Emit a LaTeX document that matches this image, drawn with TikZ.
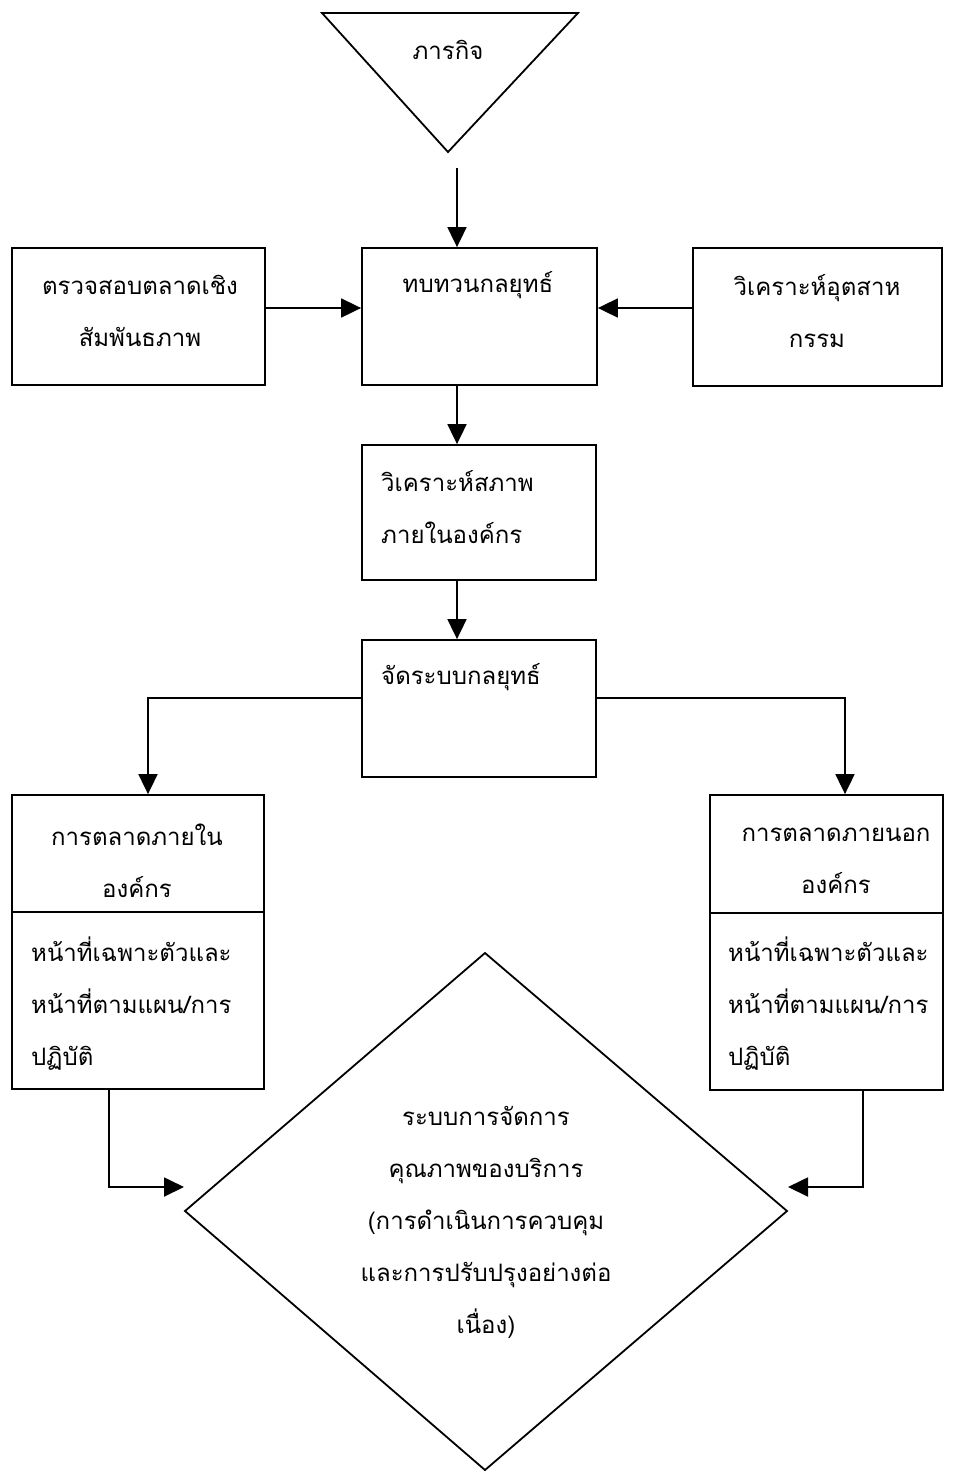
\documentclass[tikz,border=0pt]{standalone}
\usepackage{fontspec}
\newfontfamily\thaifont[Script=Thai]{Loma}
\usetikzlibrary{arrows.meta}
\begin{document}
\begin{tikzpicture}[x=1pt,y=-1pt,
  box/.style={draw, line width=1.8pt, inner sep=0pt},
  txt/.style={font=\thaifont\fontsize{24}{52}\selectfont, inner sep=0pt, align=center},
  ltxt/.style={txt, align=left, anchor=west},
  ln/.style={line width=1.8pt},
  arr/.style={line width=1.8pt, -{Triangle[length=20pt,width=19pt]}}]
\useasboundingbox (0,0) rectangle (953,1473);
\fill[white] (0,0) rectangle (953,1473);
% triangle
\draw[ln] (322,13) -- (578,13) -- (448,152) -- cycle;
\node[txt] (mission) at (448,50) {ภารกิจ};
\coordinate (tri) at (457,168);
\coordinate (col) at (457,0);
% boxes
\node[box, minimum width=253pt, minimum height=137pt] (relm) at (138.5,316.5) {};
\node[box, minimum width=235pt, minimum height=137pt] (review) at (479.5,316.5) {};
\node[box, minimum width=249pt, minimum height=138pt] (indus) at (817.5,317) {};
\node[box, minimum width=234pt, minimum height=135pt] (analysis) at (479,512.5) {};
\node[box, minimum width=234pt, minimum height=137pt] (strategy) at (479,708.5) {};
\node[box, minimum width=252pt, minimum height=294pt] (intl) at (138,942) {};
\node[box, minimum width=233pt, minimum height=295pt] (extl) at (826.5,942.5) {};
\draw[ln] (intl.west |- 0,912) -- (intl.east |- 0,912);
\draw[ln] (extl.west |- 0,913) -- (extl.east |- 0,913);
% diamond
\draw[ln] (485,953) -- (787,1211) -- (485,1470) -- (185,1211) -- cycle;
% texts
\node[txt] (t1) at (140,311) {ตรวจสอบตลาดเชิง\\สัมพันธภาพ};
\node[txt] (t2) at (478,285) {ทบทวนกลยุทธ์};
\node[txt] (t3) at (817,311) {วิเคราะห์อุตสาห\\กรรม};
\node[ltxt] (t4) at (381,507.5) {วิเคราะห์สภาพ\\ภายในองค์กร};
\node[ltxt] (t5) at (381,677) {จัดระบบกลยุทธ์};
\node[txt] (t6) at (137,861) {การตลาดภายใน\\องค์กร};
\node[ltxt] (t7) at (31,1004) {หน้าที่เฉพาะตัวและ\\หน้าที่ตามแผน/การ\\ปฏิบัติ};
\node[txt] (t8) at (836,861) {การตลาดภายนอก\\องค์กร};
\node[ltxt] (t9) at (728,1004) {หน้าที่เฉพาะตัวและ\\หน้าที่ตามแผน/การ\\ปฏิบัติ};
\node[txt] (t10) at (486,1222) {ระบบการจัดการ\\คุณภาพของบริการ\\(การดำเนินการควบคุม\\และการปรับปรุงอย่างต่อ\\เนื่อง)};
% connectors
\coordinate (rowS) at (0,698);
\coordinate (colL) at (148,0);
\coordinate (colR) at (845,0);
\coordinate (colLL) at (109,0);
\coordinate (colRR) at (863,0);
\coordinate (inL) at (184,1187);
\coordinate (inR) at (788,1187);
\draw[arr] (tri) -- (tri |- review.north);
\draw[arr] ([yshift=8.5pt]relm.east) -- ([yshift=8.5pt]review.west);
\draw[arr] ([yshift=9pt]indus.west) -- ([yshift=9pt]indus.west -| review.east);
\draw[arr] (col |- review.south) -- (col |- analysis.north);
\draw[arr] (col |- analysis.south) -- (col |- strategy.north);
\draw[arr] (strategy.west |- rowS) -| (colL |- intl.north);
\draw[arr] (strategy.east |- rowS) -| (colR |- extl.north);
\draw[arr] (colLL |- intl.south) |- (inL);
\draw[arr] (colRR |- extl.south) |- (inR);
\end{tikzpicture}
\end{document}
